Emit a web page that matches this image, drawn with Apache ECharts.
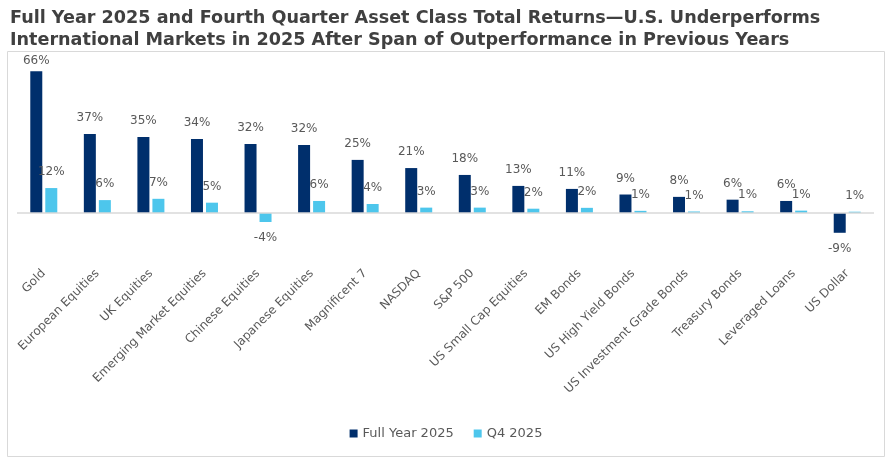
<!DOCTYPE html>
<html>
<head>
<meta charset="utf-8">
<script src="https://cdn.jsdelivr.net/npm/echarts@6/dist/echarts.min.js"></script>
<style>
  html, body { margin: 0; padding: 0; background: #fff; }
  #chart { width: 892px; height: 461px; }
</style>
</head>
<body>
<div id="chart"></div>
<script>
const categories = ['Gold', 'European Equities', 'UK Equities', 'Emerging Market Equities', 'Chinese Equities',
  'Japanese Equities', 'Magnificent 7', 'NASDAQ', 'S&P 500', 'US Small Cap Equities', 'EM Bonds',
  'US High Yield Bonds', 'US Investment Grade Bonds', 'Treasury Bonds', 'Leveraged Loans', 'US Dollar']
const fullYear = [65.9, 36.7, 35.3, 34.4, 32.1, 31.6, 24.7, 20.9, 17.7, 12.6, 11.2, 8.6, 7.5, 6.2, 5.6, -9.2]
const q4 = [11.6, 6.0, 6.6, 4.8, -4.2, 5.6, 4.2, 2.5, 2.5, 2.0, 2.4, 1.0, 0.7, 0.8, 1.1, 0.6]
const seriesNames = ['Full Year 2025', 'Q4 2025']

const fontColor = '#595959'
const font = 'DejaVu Sans'

// 正负值的标签位置不同
const toItems = (arr) => arr.map(v => ({
  value: v,
  label: { position: v < 0 ? 'bottom' : 'top', distance: v > 60 ? 4 : 10 }
}))

const labelCfg = {
  show: true,
  color: fontColor,
  fontFamily: font,
  fontSize: 12,
  formatter: (p) => `${Math.round(p.value)}%`
}

const myChart = echarts.init(document.getElementById('chart'))
myChart.setOption({
  animation: false,
  title: {
    text: 'Full Year 2025 and Fourth Quarter Asset Class Total Returns\u2014U.S. Underperforms\nInternational Markets in 2025 After Span of Outperformance in Previous Years',
    left: 5,
    top: 2,
    textStyle: {
      color: '#404040',
      fontFamily: 'DejaVu Sans',
      fontWeight: 'bold',
      fontSize: 17.6,
      lineHeight: 22
    }
  },
  graphic: [{
    type: 'rect',
    shape: { x: 7.5, y: 51.5, width: 877, height: 405 },
    style: { fill: 'none', stroke: '#d9d9d9', lineWidth: 1 },
    silent: true,
    z: -1
  }],
  legend: {
    data: seriesNames,
    bottom: 16,
    left: 'center',
    itemWidth: 8,
    itemHeight: 8,
    itemGap: 20,
    icon: 'rect',
    textStyle: { color: fontColor, fontFamily: font, fontSize: 13 }
  },
  grid: { top: 62.5, left: 17, right: 18, bottom: 226.5 },
  xAxis: {
    type: 'category',
    data: categories,
    axisLine: { show: false },
    axisTick: { show: false },
    axisLabel: {
      rotate: 45,
      interval: 0,
      margin: 37,
      color: fontColor,
      fontFamily: font,
      fontSize: 12
    }
  },
  yAxis: {
    type: 'value',
    min: -10,
    max: 70,
    show: false,
    splitLine: { show: false }
  },
  series: [
    {
      name: seriesNames[0],
      type: 'bar',
      barWidth: 12,
      barGap: '25%',
      color: '#002f6c',
      label: labelCfg,
      data: toItems(fullYear),
      markLine: {
        silent: true,
        symbol: 'none',
        label: { show: false },
        lineStyle: { color: '#d9d9d9', type: 'solid', width: 1.5 },
        data: [{ yAxis: 0 }]
      }
    },
    {
      name: seriesNames[1],
      type: 'bar',
      barWidth: 12,
      barGap: '25%',
      color: '#4dc6ec',
      label: labelCfg,
      data: toItems(q4)
    }
  ]
})
</script>
</body>
</html>
